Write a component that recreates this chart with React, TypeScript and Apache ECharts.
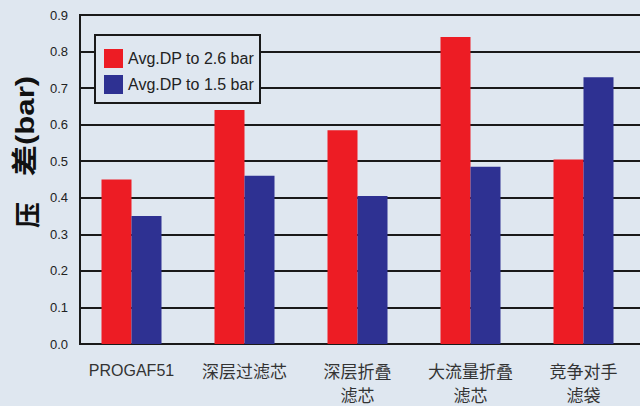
import React, { useEffect, useRef } from "react";
import * as echarts from "echarts";

const categories = ["PROGAF51", "深层过滤芯", "深层折叠\n滤芯", "大流量折叠\n滤芯", "竞争对手\n滤袋"];
const series26 = [0.45, 0.64, 0.585, 0.84, 0.505];
const series15 = [0.35, 0.46, 0.405, 0.485, 0.73];
const legendNames = ["Avg.DP to 2.6 bar", "Avg.DP to 1.5 bar"];
const yTicks = { min: 0, max: 0.9, interval: 0.1 };

const BG = "#dfe7f0";

export default function App() {
  const ref = useRef<HTMLDivElement>(null);
  useEffect(() => {
    document.body.style.margin = "0";
    const chart = echarts.init(ref.current!, undefined, { renderer: "svg" });
    chart.setOption({
      animation: false,
      backgroundColor: BG,
      grid: { left: 75, top: 15, width: 575, height: 331, containLabel: false },
      legend: {
        orient: "vertical",
        left: 95,
        top: 35,
        itemWidth: 19,
        itemHeight: 19,
        itemGap: 7,
        padding: [14, 6, 9, 9],
        backgroundColor: BG,
        borderColor: "#1a1a1a",
        borderWidth: 2,
        icon: "rect",
        textStyle: { fontFamily: "Liberation Sans, Arial, sans-serif", fontSize: 16, color: "#222" },
        data: legendNames,
      },
      xAxis: {
        type: "category",
        data: categories,
        axisLine: { show: true, lineStyle: { color: "#1a1a1a", width: 2 } },
        axisTick: { show: false },
        axisLabel: {
          interval: 0,
          margin: 14,
          fontSize: 17,
          lineHeight: 24,
          color: "#333",
          fontFamily: "Noto Sans CJK SC, sans-serif",
          formatter: (v: string) => (/^[\x00-\x7f]+$/.test(v) ? "{n|" + v + "}" : v),
          rich: {
            n: {
              fontFamily: "Liberation Sans Narrow, Liberation Sans, Arial, sans-serif",
              fontSize: 16,
              color: "#333",
              lineHeight: 24,
            },
          },
        },
      },
      yAxis: {
        type: "value",
        min: yTicks.min,
        max: yTicks.max,
        interval: yTicks.interval,
        offset: -5,
        axisLine: { show: true, lineStyle: { color: "#1a1a1a", width: 2 } },
        axisTick: { show: false },
        splitLine: { show: true, lineStyle: { color: "#1a1a1a", width: 2 } },
        axisLabel: {
          margin: 12,
          fontSize: 13,
          color: "#222",
          fontFamily: "Liberation Sans, Arial, sans-serif",
          formatter: (v: number) => v.toFixed(1),
        },
      },
      series: [
        {
          name: legendNames[0],
          type: "bar",
          data: series26,
          barWidth: 30,
          barGap: "0%",
          itemStyle: { color: "#ed1c24" },
        },
        {
          name: legendNames[1],
          type: "bar",
          data: series15,
          barWidth: 30,
          barGap: "0%",
          itemStyle: { color: "#2e3192" },
        },
      ],
      graphic: [
        {
          type: "rect",
          z: 100,
          shape: { x: 74, y: 8, width: 5, height: 345 },
          style: { fill: BG },
          silent: true,
        },
        {
          type: "text",
          x: 25,
          y: 215,
          rotation: Math.PI / 2,
          style: {
            text: "压",
            fontSize: 26,
            fontWeight: "bold",
            fontFamily: "Noto Sans CJK SC, sans-serif",
            fill: "#111",
            align: "center",
            verticalAlign: "middle",
          },
        },
        {
          type: "text",
          x: 25,
          y: 126,
          rotation: Math.PI / 2,
          scaleX: 1.2,
          style: {
            text: "差(bar)",
            fontSize: 26,
            fontWeight: "bold",
            fontFamily: "Liberation Sans, Noto Sans CJK SC, sans-serif",
            fill: "#111",
            align: "center",
            verticalAlign: "middle",
          },
        },
      ],
    });
    return () => chart.dispose();
  }, []);
  return <div ref={ref} style={{ width: 640, height: 406 }} />;
}
